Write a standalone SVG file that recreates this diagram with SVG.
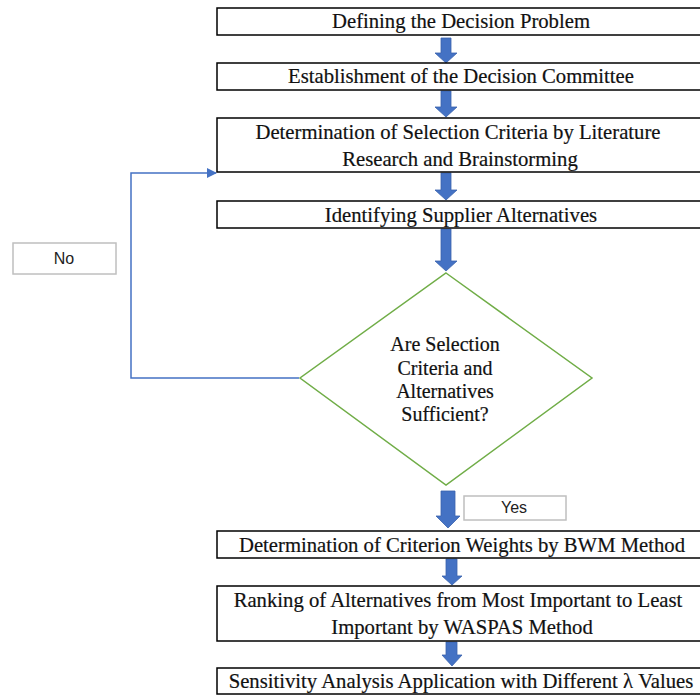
<svg xmlns="http://www.w3.org/2000/svg" width="700" height="695" viewBox="0 0 700 695">
<style>
.box{fill:#fff;stroke:#000;stroke-width:1.5}
.lbl{fill:#fff;stroke:#bfbfbf;stroke-width:1.5}
.t{font-family:'Liberation Serif','Times New Roman',Times,serif;font-size:20.7px;fill:#111;stroke:#111;stroke-width:0.2;text-anchor:middle}
.d{font-size:20px}
.s{font-family:'Liberation Sans',Arial,sans-serif;font-size:16px;fill:#222;text-anchor:middle}
.arr{fill:#4472C4;stroke:#3a63ad;stroke-width:0.8}
.loop{fill:none;stroke:#4472C4;stroke-width:1.5}
</style>
<defs>
<marker id="ah" markerWidth="10" markerHeight="10" refX="9" refY="5" orient="auto" markerUnits="userSpaceOnUse">
<path d="M0,0 L10,5 L0,10 z" fill="#4472C4"/>
</marker>
</defs>
<rect width="700" height="695" fill="#fff"/>
<g id="connectors">
<polygon class="arr" points="441,38 451,38 451,53 457,53 446,63 435,53 441,53"/>
<polygon class="arr" points="441,91 451,91 451,107 457,107 446,117 435,107 441,107"/>
<polygon class="arr" points="441,173 451,173 451,190 457,190 446,200 435,190 441,190"/>
<polygon class="arr" points="441,229 451,229 451,261 457,261 446,271 435,261 441,261"/>
<polygon class="arr" points="441,491 455,491 455,516 460,516 448,528 436,516 441,516"/>
<polygon class="arr" points="446,559 457,559 457,576 462,576 452,585 442,576 446,576"/>
<polygon class="arr" points="446,642 457,642 457,655 462,655 452,666 442,655 446,655"/>
<polyline class="loop" points="299,378 131,378 131,173 216,173" marker-end="url(#ah)"/>
</g>
<g id="n1"><rect class="box" x="217" y="8" width="490" height="27"/><text class="t" x="461" y="28">Defining the Decision Problem</text></g>
<g id="n2"><rect class="box" x="217" y="63" width="490" height="27"/><text class="t" x="461" y="83">Establishment of the Decision Committee</text></g>
<g id="n3"><rect class="box" x="217" y="118" width="490" height="54"/><text class="t" x="458" y="139">Determination of Selection Criteria by Literature</text><text class="t" x="460" y="166">Research and Brainstorming</text></g>
<g id="n4"><rect class="box" x="217" y="201" width="490" height="27"/><text class="t" x="461" y="222">Identifying Supplier Alternatives</text></g>
<g id="n5"><polygon points="446,273 592,378 446,485 300,378" fill="#fff" stroke="#70AD47" stroke-width="1.5"/>
<text class="t d" x="445" y="351">Are Selection</text>
<text class="t d" x="445" y="375">Criteria and</text>
<text class="t d" x="445" y="398">Alternatives</text>
<text class="t d" x="445" y="421">Sufficient?</text></g>
<g id="no"><rect class="lbl" x="13" y="243" width="103" height="31"/><text class="s" x="64" y="264">No</text></g>
<g id="yes"><rect class="lbl" x="464" y="496" width="102" height="24"/><text class="s" x="514" y="513">Yes</text></g>
<g id="n6"><rect class="box" x="217" y="531" width="490" height="27"/><text class="t" x="462" y="552">Determination of Criterion Weights by BWM Method</text></g>
<g id="n7"><rect class="box" x="217" y="586" width="490" height="55"/><text class="t" x="458" y="607">Ranking of Alternatives from Most Important to Least</text><text class="t" x="462" y="634">Important by WASPAS Method</text></g>
<g id="n8"><rect class="box" x="217" y="668" width="490" height="26"/><text class="t" x="461" y="688">Sensitivity Analysis Application with Different λ Values</text></g>
</svg>
